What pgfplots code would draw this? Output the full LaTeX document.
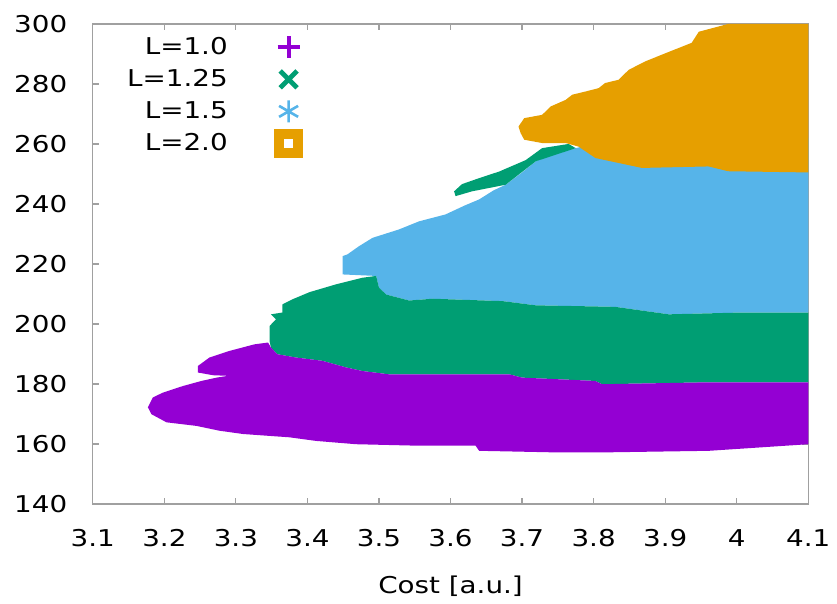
\documentclass[border=0pt]{standalone}
\usepackage{fontspec}
\setmainfont[FakeStretch=1.2]{DejaVu Sans}
\usepackage{pgfplots}
\pgfplotsset{compat=1.18}
\definecolor{cA}{HTML}{9400D3}
\definecolor{cB}{HTML}{009E73}
\definecolor{cC}{HTML}{56B4E9}
\definecolor{cD}{HTML}{E69F00}
\definecolor{axgray}{HTML}{A0A0A0}
\newcommand{\lblfont}{\fontsize{11.6}{14}\selectfont}
\pgfplotsset{mylegend/.style={legend image code/.code={\path (0pt,0pt) (34pt,0pt); \draw[##1] plot coordinates {(28pt,0pt)};}}}
\begin{document}
\begin{tikzpicture}
\begin{axis}[
  scale only axis, width=358.5pt, height=240.5pt,
  xmin=3.1, xmax=4.1, ymin=140, ymax=300,
  xtick={3.1,3.2,3.3,3.4,3.5,3.6,3.7,3.8,3.9,4.0,4.1},
  ytick={140,160,180,200,220,240,260,280,300},
  /pgf/number format/assume math mode=true,
  tick label style={font=\lblfont, text=black},
  xticklabel style={anchor=base, yshift=-21.5pt},
  yticklabel style={xshift=-9.3pt},
  xlabel={Cost [a.u.]},
  xlabel style={font=\lblfont, at={(axis description cs:0.5,0)}, anchor=base, yshift=-45pt},
  axis line style={axgray, line width=0.6pt},
  tick style={axgray, line width=0.6pt},
  major tick length=3pt, tick align=inside,
  legend plot pos=right,
  legend cell align=right,
  legend style={draw=none, fill=none, font=\lblfont, at={(axis description cs:0,1)}, anchor=north west, xshift=14pt, yshift=-4pt, nodes={inner sep=0pt}, row sep=5.5pt},
]
\addplot[fill=cC, draw=none, forget plot] coordinates {
(3.449,216.5) (3.449,222.6) (3.456,223.2) (3.472,225.9) (3.491,228.7) (3.528,231.5) (3.556,234.2) (3.593,236.5) (3.620,239.5) (3.640,241.5) (3.660,244.5) (3.677,246.4) (3.700,250.5) (3.719,254.2) (3.750,257.5) (3.775,258.6) (3.790,259.5) (3.820,262) (4.1,262) (4.1,203.8) (4.007,203.8) (3.905,203.2) (3.830,205.7) (3.719,206.2) (3.673,207.6) (3.575,208.4) (3.542,207.8) (3.510,209.8) (3.500,212.1) (3.496,216.0)} -- cycle;
\addplot[fill=cB, draw=none, forget plot] coordinates {
(3.347,194.3) (3.347,199.3) (3.356,201.5) (3.349,203.2) (3.365,203.8) (3.365,206.5) (3.379,208.2) (3.403,210.6) (3.440,213.2) (3.477,215.4) (3.496,216.0) (3.500,212.1) (3.510,209.8) (3.542,207.8) (3.575,208.4) (3.673,207.6) (3.719,206.2) (3.830,205.7) (3.905,203.2) (4.007,203.8) (4.1,203.8) (4.1,180.5) (3.951,180.5) (3.812,179.9) (3.802,181.0) (3.700,182.1) (3.682,183.2) (3.556,183.2) (3.514,183.2) (3.477,184.3) (3.454,185.5) (3.421,187.7) (3.384,188.8) (3.358,189.9) (3.349,192.1)} -- cycle;
\addplot[fill=cB, draw=none, forget plot] coordinates {
(3.605,244.2) (3.616,246.6) (3.640,248.6) (3.668,250.8) (3.705,254.6) (3.728,258.6) (3.765,260.0) (3.775,258.6) (3.719,254.2) (3.677,246.4) (3.630,244.2) (3.607,242.6)} -- cycle;
\addplot[fill=cD, draw=none, forget plot] coordinates {
(3.988,300) (4.1,300) (4.1,250.5) (3.988,250.9) (3.9605,252.5) (3.8675,252) (3.8025,255.3) (3.779,259.1) (3.761,260.3) (3.728,260.3) (3.703,261.4) (3.698,263.6) (3.695,265.8) (3.703,268.6) (3.728,269.7) (3.740,272.5) (3.761,274.7) (3.770,276.4) (3.789,277.5) (3.807,278.6) (3.816,280.3) (3.835,281.4) (3.849,284.7) (3.872,287.5) (3.900,290.2) (3.937,293.7) (3.947,297.4)} -- cycle;
\addplot[fill=cA, draw=none, forget plot] coordinates {
(3.177,172.2) (3.184,175.5) (3.198,177.1) (3.226,179.3) (3.252,181.0) (3.273,182.1) (3.289,182.7) (3.268,182.9) (3.247,183.8) (3.247,186.0) (3.263,188.8) (3.291,191.0) (3.326,193.2) (3.345,193.8) (3.349,192.1) (3.358,189.9) (3.384,188.8) (3.421,187.7) (3.454,185.5) (3.477,184.3) (3.514,183.2) (3.682,183.2) (3.700,182.1) (3.802,181.0) (3.812,179.9) (3.951,180.5) (4.1,180.5) (4.1,159.9) (3.961,157.7) (3.821,157.2) (3.742,157.2) (3.640,157.7) (3.635,159.4) (3.556,159.4) (3.468,159.9) (3.412,161.0) (3.375,162.2) (3.310,163.3) (3.277,164.4) (3.245,166.0) (3.203,167.2) (3.182,169.9)} -- cycle;
\addlegendimage{only marks, mark=+, color=cA, mark size=5.5pt, line width=2pt, mylegend}
\addlegendentry{L=1.0}
\addlegendimage{only marks, mark=x, color=cB, mark size=6pt, line width=2.4pt, mylegend}
\addlegendentry{L=1.25}
\addlegendimage{only marks, mark=asterisk, color=cC, mark size=5.5pt, line width=1.3pt, mylegend}
\addlegendentry{L=1.5}
\addlegendimage{only marks, mark=square, color=cD, mark size=4.8pt, line width=5pt, mylegend}
\addlegendentry{L=2.0}
\coordinate (ll) at (rel axis cs:0,0);
\coordinate (ur) at (rel axis cs:1,1);
\end{axis}
\path (ll) ++(-46.5pt,-48pt) (ur) ++(13.5pt,12pt);
\end{tikzpicture}
\end{document}
